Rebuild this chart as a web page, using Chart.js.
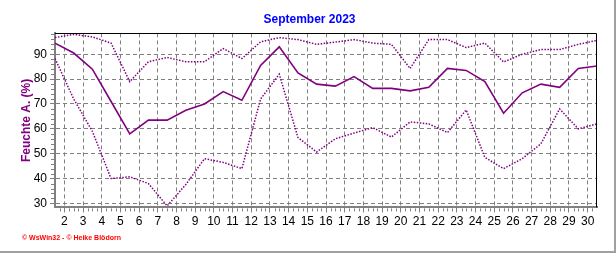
<!DOCTYPE html>
<html>
<head>
<meta charset="utf-8">
<script src="https://cdn.jsdelivr.net/npm/chart.js@4/dist/chart.umd.min.js"></script>
<style>
  html, body { margin: 0; padding: 0; background: #fff; }
</style>
</head>
<body>
<canvas id="myChart" width="616" height="253"></canvas>
<script>
// one value per day, plotted at noon
var days = [1, 2, 3, 4, 5, 6, 7, 8, 9, 10, 11, 12, 13, 14, 15, 16, 17, 18, 19, 20, 21, 22, 23, 24, 25, 26, 27, 28, 29, 30];
var humAvg = [94.5, 90.5, 84, 71, 58, 63.5, 63.5, 67.5, 70, 75, 71.5, 85.5, 93, 82.5, 78, 77.2, 81, 76.3, 76.3, 75.3, 76.7, 84.3, 83.5, 79, 66.3, 74.5, 78, 76.7, 84.3, 85.3];
var humMax = [96.7, 98, 97, 94.5, 79, 87, 88.7, 87, 87, 92.3, 88.3, 95, 96.7, 95.9, 94, 94.9, 95.9, 94.5, 94, 84.3, 95.9, 95.9, 92.7, 94.5, 86.9, 90, 91.9, 91.9, 94, 95.6];
var humMin = [88.3, 72, 59, 40, 40.7, 38, 29, 37.6, 48, 46.5, 44, 72, 82, 56.5, 50.7, 56, 58.3, 60.5, 56.7, 62.8, 62, 58.5, 67.6, 48.5, 44, 48, 54, 68, 60, 62];
var xTicks = [2, 3, 4, 5, 6, 7, 8, 9, 10, 11, 12, 13, 14, 15, 16, 17, 18, 19, 20, 21, 22, 23, 24, 25, 26, 27, 28, 29, 30];
var yTicks = [30, 40, 50, 60, 70, 80, 90];

function toPoints(values) {
  return days.map(function (d, i) { return { x: d + 0.5, y: values[i] }; });
}

var purple = '#800080';
var gridGray = '#808080';
var font = 'Liberation Sans, Arial, sans-serif';

// minor ticks, black top/right frame and the grey outer edge
var framePlugin = {
  id: 'framePlugin',
  afterDraw: function (chart) {
    var ctx = chart.ctx;
    var area = chart.chartArea;
    var xs = chart.scales.x;
    var ys = chart.scales.y;
    ctx.save();
    ctx.strokeStyle = gridGray;
    ctx.lineWidth = 1;
    ctx.beginPath();
    for (var v = xs.min + 0.25; v < xs.max; v += 0.25) {
      if (v % 1 === 0) continue;
      var px = Math.round(xs.getPixelForValue(v)) + 0.5;
      ctx.moveTo(px, area.bottom + 1);
      ctx.lineTo(px, area.bottom + 4);
    }
    for (var w = 30; w < ys.max; w += 2) {
      if (w % 10 === 0) continue;
      var py = Math.round(ys.getPixelForValue(w)) + 0.5;
      ctx.moveTo(area.left - 4, py);
      ctx.lineTo(area.left - 1, py);
    }
    ctx.stroke();

    ctx.strokeStyle = '#000';
    ctx.beginPath();
    var top = Math.round(area.top) + 0.5;
    var right = Math.round(area.right) - 0.5;
    ctx.moveTo(area.left, top);
    ctx.lineTo(right, top);
    ctx.lineTo(right, area.bottom);
    ctx.stroke();

    ctx.fillStyle = '#a0a0a0';
    ctx.fillRect(chart.width - 2, 0, 2, chart.height);
    ctx.fillRect(0, chart.height - 2, chart.width, 2);
    ctx.restore();
  }
};

var ctx = document.getElementById('myChart').getContext('2d');
var chart = new Chart(ctx, {
  type: 'line',
  data: {
    datasets: [{
      label: 'Max',
      data: toPoints(humMax),
      borderColor: purple,
      borderWidth: 1.5,
      borderDash: [1.5, 1.5],
      pointRadius: 0,
      fill: false
    }, {
      label: 'Mittel',
      data: toPoints(humAvg),
      borderColor: purple,
      borderWidth: 1.6,
      pointRadius: 0,
      fill: false
    }, {
      label: 'Min',
      data: toPoints(humMin),
      borderColor: purple,
      borderWidth: 1.5,
      borderDash: [1.5, 1.5],
      pointRadius: 0,
      fill: false
    }]
  },
  plugins: [framePlugin],
  options: {
    responsive: false,
    animation: false,
    devicePixelRatio: 1,
    layout: { padding: { left: 22, right: 19, top: 0, bottom: 0 } },
    plugins: {
      legend: { display: false },
      tooltip: { enabled: false },
      title: {
        display: true,
        text: 'September 2023',
        color: '#0000ff',
        font: { family: font, size: 12, weight: 'bold' },
        padding: { top: 12, bottom: 7 }
      },
      subtitle: {
        display: true,
        position: 'bottom',
        align: 'start',
        text: '\u00a9 WsWin32 - \u00a9 Heike Bl\u00f6dorn',
        color: '#ff0000',
        font: { family: font, size: 7, weight: 'bold' },
        padding: { top: 0, bottom: 11 }
      }
    },
    scales: {
      x: {
        type: 'linear',
        min: 1.5,
        max: 30.5,
        afterBuildTicks: function (s) {
          s.ticks = xTicks.map(function (v) { return { value: v }; });
        },
        afterFit: function (s) { s.height = 26.2; },
        ticks: {
          color: '#000',
          font: { family: font, size: 12 },
          padding: 2,
          maxRotation: 0,
          autoSkip: false
        },
        grid: { color: gridGray, lineWidth: 1, tickLength: 5, tickColor: gridGray, tickBorderDash: [] },
        border: { color: gridGray, width: 2, dash: [4, 3] }
      },
      y: {
        min: 28.4,
        max: 98.4,
        afterBuildTicks: function (s) {
          s.ticks = yTicks.map(function (v) { return { value: v }; });
        },
        afterFit: function (s) { s.width = 33; },
        title: {
          display: true,
          text: 'Feuchte A. (%)',
          color: purple,
          font: { family: font, size: 12, weight: 'bold', lineHeight: 1 },
          padding: { top: -1, bottom: 0 }
        },
        ticks: {
          color: '#000',
          font: { family: font, size: 12 },
          padding: 3
        },
        grid: { color: gridGray, lineWidth: 1, tickLength: 5, tickColor: gridGray, tickBorderDash: [] },
        border: { color: gridGray, width: 2, dash: [4, 3] }
      }
    }
  }
});
</script>
</body>
</html>
